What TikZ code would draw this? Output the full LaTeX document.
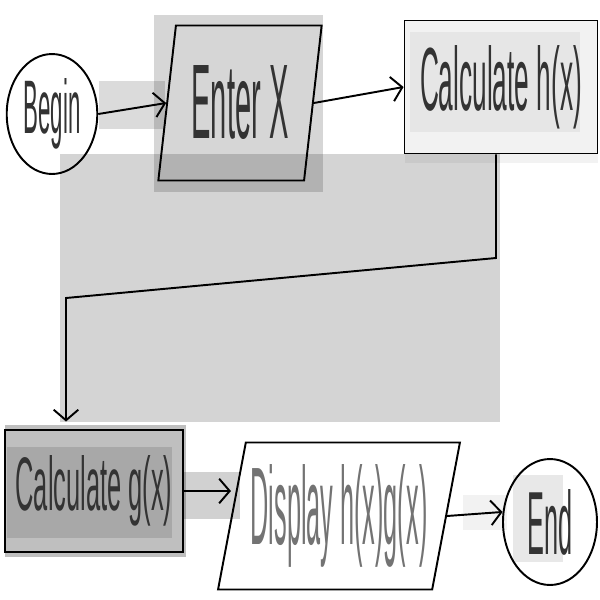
\documentclass[tikz,border=0pt]{standalone}
\usepackage{fontspec}
\setmainfont{Liberation Sans}
\usepackage{graphicx}
\usetikzlibrary{shapes.geometric, arrows.meta, backgrounds}
\tikzset{
  base/.style={
    draw,
    line width=1.1pt,
    inner sep=2pt,
    text=black!80,
  },
  terminal/.style={base, ellipse},
  process/.style={base, rectangle},
  io/.style={base, trapezium, trapezium stretches=true},
  arr/.style={-{Straight Barb[length=6pt, width=14pt]}, line width=1.1pt},
  hl/.style={fill=black, fill opacity=#1, draw=none},
}
% text squeezed to the hand-written size: width, height, text
\newcommand{\handtext}[3]{\resizebox{#1}{#2}{#3}}

\begin{document}
\begin{tikzpicture}[x=0.02cm, y=-0.02cm]
\useasboundingbox (0,0) rectangle (600,600);

% Grey marker boxes (behind the chart)
\begin{scope}[on background layer]
  \fill[hl=0.14] (99,81) rectangle (165,129);
  \fill[hl=0.16] (154,15) rectangle (323,192);
  \fill[hl=0.05] (405,20) rectangle (598,163);
  \fill[hl=0.05] (410,32) rectangle (580,132);
  \fill[hl=0.17] (60,154) rectangle (500,422);
  \fill[hl=0.25] (5,425) rectangle (186,557);
  \fill[hl=0.12] (7,447) rectangle (172,538);
  \fill[hl=0.18] (183,472) rectangle (240,519);
  \fill[hl=0.05] (463,495) rectangle (507,530);
  \fill[hl=0.09] (513,475) rectangle (563,562);
\end{scope}

% Row 1
\node[terminal, minimum width=1.8cm, minimum height=2.4cm] (begin) at (52,114)
  {\handtext{1.14cm}{1.1cm}{Begin}};
\node[io, trapezium left angle=80, trapezium right angle=100,
  minimum width=3.28cm, minimum height=3.1cm] (enter) at (240,103)
  {\handtext{1.94cm}{1.46cm}{Enter X}};
\node[process, minimum width=3.86cm, minimum height=2.66cm] (hcalc) at (501,87)
  {\handtext{3.24cm}{1.3cm}{Calculate h(x)}};

% Row 2
\node[process, minimum width=3.56cm, minimum height=2.44cm] (gcalc) at (94,491)
  {\handtext{3.14cm}{1.1cm}{Calculate g(x)}};
\node[io, trapezium left angle=76, trapezium right angle=104, text=black!55,
  minimum width=4.84cm, minimum height=2.94cm] (display) at (339,516)
  {\handtext{3.54cm}{1.6cm}{Display h(x)g(x)}};
\node[terminal, minimum width=1.88cm, minimum height=2.52cm] (end) at (550,522)
  {\handtext{0.9cm}{1.3cm}{End}};

% --- Flow arrows -------------------------------------------------------
\draw[arr] (begin.east) -- (enter.west);
\draw[arr] (enter.east) -- (hcalc.west);
% turn down to the second row
\coordinate (bendR) at (496,258);
\coordinate (bendL) at (66,298);
\draw[arr, shorten >=0.15cm] (hcalc.south -| bendR) -- (bendR) -- (bendL) -- (bendL |- gcalc.north);
\draw[arr] (gcalc.east) -- (display.west |- gcalc.east);
\draw[arr] (display.east) -- (end.168);

\end{tikzpicture}
\end{document}
